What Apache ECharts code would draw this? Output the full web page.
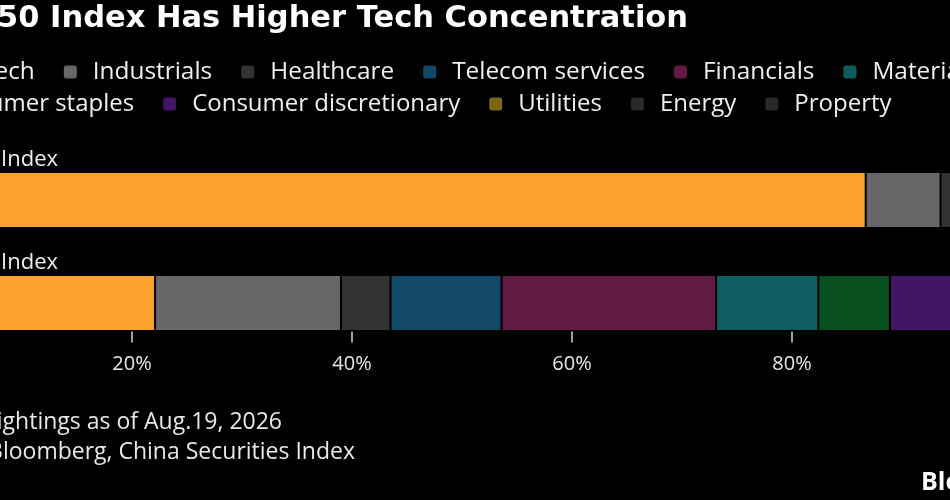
<!DOCTYPE html>
<html>
<head>
<meta charset="utf-8">
<script src="https://cdn.jsdelivr.net/npm/echarts@6/dist/echarts.min.js"></script>
<style>
  html, body { margin: 0; padding: 0; background: #000; }
  #chart { width: 950px; height: 500px; }
</style>
</head>
<body>
<div id="chart"></div>
<script>
// index names, top to bottom
var indexNames = ['STAR 50 Index', 'CSI 300 Index'];

// sectors in stacking / legend order
var sectors = ['Tech', 'Industrials', 'Healthcare', 'Telecom services', 'Financials', 'Materials',
	'Consumer staples', 'Consumer discretionary', 'Utilities', 'Energy', 'Property'];

// weights in %, same order as sectors
var star50Weights = [86.7, 6.8, 4.3, 0, 0, 2.2, 0, 0, 0, 0, 0];
var csi300Weights = [22.1, 16.9, 4.5, 10.1, 19.5, 9.3, 6.5, 6.0, 2.5, 1.6, 1.0];

var tickValues = [0, 20, 40, 60, 80, 100];

var sectorColors = ['#ffa12e', '#676767', '#333333', '#124966', '#611b45', '#0f5e62',
	'#085020', '#431565', '#7b6412', '#2a2a2a', '#282828'];

var FONT = '"Open Sans", "Noto Sans", sans-serif';

function buildSeries() {
	var list = [];
	for (var i = 0; i < sectors.length; i++) {
		var s = {
			name: sectors[i],
			type: 'bar',
			stack: 'total',
			barWidth: 56,
			itemStyle: {
				color: sectorColors[i],
				borderColor: '#000',
				borderWidth: 1
			},
			data: [star50Weights[i], csi300Weights[i]]
		};
		// index name sits above each bar, on the first segment
		if (i === 0) {
			s.label = {
				show: true,
				formatter: '{b}',
				position: [146, -1],
				align: 'right',
				verticalAlign: 'bottom',
				color: '#f0f0f0',
				fontFamily: FONT,
				fontSize: 22
			};
		}
		list.push(s);
	}
	return list;
}

var myChart = echarts.init(document.getElementById('chart'));
var option = {
	backgroundColor: '#000',
	animation: false,
	title: [
		{
			text: 'STAR 50 Index Has Higher Tech Concentration',
			right: 262,
			top: 4,
			padding: 0,
			textStyle: { color: '#fff', fontFamily: '"DejaVu Sans", sans-serif', fontWeight: 'bold', fontSize: 30.5 }
		},
		{
			text: 'Note: Weightings as of Aug.19, 2026',
			right: 668,
			top: 411,
			padding: 0,
			textStyle: { color: '#e8e8e8', fontFamily: FONT, fontWeight: 'normal', fontSize: 23 }
		},
		{
			text: 'Source: Bloomberg, China Securities Index',
			right: 595,
			top: 441,
			padding: 0,
			textStyle: { color: '#e8e8e8', fontFamily: FONT, fontWeight: 'normal', fontSize: 23 }
		},
		{
			text: 'Bloomberg',
			left: 921,
			top: 470,
			padding: 0,
			textStyle: { color: '#fff', fontFamily: FONT, fontWeight: 'bold', fontSize: 25 }
		}
	],
	legend: [
		{
			data: sectors.slice(0, 6),
			left: -50,
			top: 60,
			width: 1400,
			padding: 0,
			icon: 'roundRect',
			itemWidth: 15,
			itemHeight: 15,
			itemGap: 27,
			textStyle: { color: '#f0f0f0', fontFamily: FONT, fontSize: 24.4, padding: [0, 0, 0, 10] }
		},
		{
			data: sectors.slice(6),
			left: -98,
			top: 92,
			width: 1400,
			padding: 0,
			icon: 'roundRect',
			itemWidth: 15,
			itemHeight: 15,
			itemGap: 27,
			textStyle: { color: '#f0f0f0', fontFamily: FONT, fontSize: 24, padding: [0, 0, 0, 10] }
		}
	],
	grid: {
		left: -88,
		width: 1100,
		top: 148.5,
		height: 206,
		outerBoundsMode: 'none',
		containLabel: false
	},
	xAxis: {
		type: 'value',
		min: tickValues[0],
		max: tickValues[tickValues.length - 1],
		interval: tickValues[1] - tickValues[0],
		offset: -23,
		axisLine: { show: false },
		splitLine: { show: false },
		axisTick: { show: true, length: 11, lineStyle: { color: '#d8d8d8', width: 1.5 } },
		axisLabel: {
			margin: 23,
			color: '#e8e8e8',
			fontFamily: FONT,
			fontSize: 20,
			formatter: '{value}%'
		}
	},
	yAxis: {
		type: 'category',
		inverse: true,
		data: indexNames,
		axisLine: { show: false },
		axisTick: { show: false },
		axisLabel: { show: false }
	},
	series: buildSeries()
};
myChart.setOption(option);
</script>
</body>
</html>
